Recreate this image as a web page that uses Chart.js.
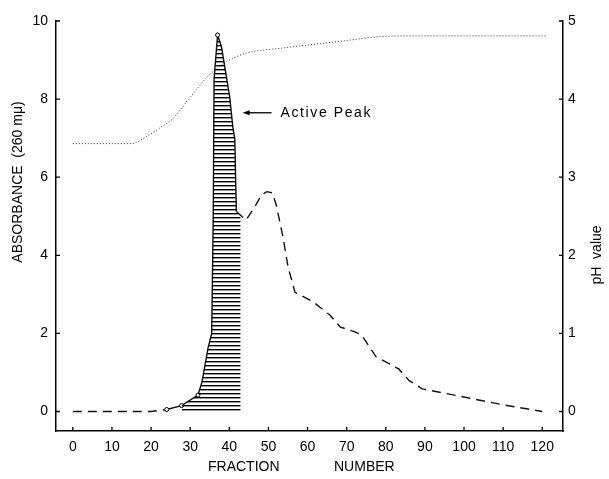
<!DOCTYPE html>
<html>
<head>
<meta charset="utf-8">
<script src="https://cdn.jsdelivr.net/npm/chart.js@4"></script>
<style>
  html, body { margin: 0; padding: 0; background: #fff; }
  #wrap { width: 609px; height: 479px; }
</style>
</head>
<body>
<div id="wrap"><canvas id="c" width="609" height="479"></canvas></div>
<script>
// ---- data ----
const fractionAbs = [0,5,10,15,20,24,27.8,32,33,34.6,35.5,35.9,36.1,37,38,40.1,40.9,41.4,41.8,44.3,46.5,48.2,49.6,51,52,53.7,55,56.8,61.4,65.7,68.4,72.1,73.8,77.5,83.3,86,89.3,98,110,120];
const absorbance  = [0,0,0,0,0,0.05,0.15,0.42,0.75,1.64,2.0,5.0,8.5,9.64,9.34,8.06,7.29,6.98,5.12,4.9,5.24,5.54,5.63,5.6,5.29,4.48,3.71,3.05,2.81,2.47,2.16,2.04,1.96,1.4,1.09,0.79,0.58,0.41,0.17,0];
const markedFractions = [24, 27.8, 32, 37];

const hatchFractions  = [27.8,32,33,34.6,35.5,35.9,36.1,37,38,40.1,40.9,41.4,41.8,42.9];
const hatchAbsorbance = [0.15,0.42,0.75,1.64,2.0,5.0,8.5,9.64,9.34,8.06,7.29,6.98,5.12,5.0];

const fractionPH = [0,5,10,15,18.8,22.2,25.6,28,31.6,34.2,36.3,39.3,44.4,53,63.2,70,78.6,90,100,110,121];
const phValues   = [3.43,3.43,3.43,3.43,3.52,3.63,3.75,3.9,4.12,4.28,4.37,4.48,4.59,4.65,4.71,4.75,4.80,4.81,4.81,4.81,4.81];

const xTicks  = [0,10,20,30,40,50,60,70,80,90,100,110,120];
const yTicks  = [0,2,4,6,8,10];
const phTicks = [0,1,2,3,4,5];
const solidRange = [24, 42];

const annotationText = 'Active Peak';
const annotationPos = {x: 53.1, y: 7.65};
const arrowFrom = 50.8, arrowTo = 43.4;

const FONT = "'Liberation Sans', Arial, sans-serif";

// hatch pattern
function makeHatch() {
  const pc = document.createElement('canvas');
  pc.width = 8; pc.height = 4;
  const g = pc.getContext('2d');
  g.fillStyle = '#000';
  g.fillRect(0, 1, 8, 1.4);
  return document.getElementById('c').getContext('2d').createPattern(pc, 'repeat');
}

const toXY = (xs, ys) => xs.map((x, i) => ({x: x, y: ys[i]}));

const decor = {
  id: 'decor',
  afterDraw(chart) {
    const ctx = chart.ctx;
    const {x, y, y1} = chart.scales;
    const ca = chart.chartArea;
    ctx.save();
    ctx.strokeStyle = '#000';
    ctx.lineWidth = 1.3;
    // inward ticks
    ctx.beginPath();
    xTicks.forEach(v => { const px = x.getPixelForValue(v); ctx.moveTo(px, ca.bottom); ctx.lineTo(px, ca.bottom - 4); });
    yTicks.forEach(v => { const py = y.getPixelForValue(v); ctx.moveTo(ca.left, py); ctx.lineTo(ca.left + 4, py); });
    phTicks.forEach(v => { const py = y1.getPixelForValue(v); ctx.moveTo(ca.right, py); ctx.lineTo(ca.right - 4, py); });
    ctx.stroke();

    // axis titles
    ctx.fillStyle = '#000';
    ctx.font = '14px ' + FONT;
    ctx.textAlign = 'center';
    ctx.textBaseline = 'middle';
    ctx.save();
    ctx.translate(18, 182);
    ctx.rotate(-Math.PI / 2);
    ctx.fillText('ABSORBANCE  (260 m\u03bc)', 0, 0);
    ctx.restore();
    ctx.save();
    ctx.translate(597, 255);
    ctx.rotate(-Math.PI / 2);
    ctx.fillText('pH  value', 0, 0);
    ctx.restore();
    ctx.textAlign = 'left';
    ctx.fillText('FRACTION', 208, 467);
    ctx.fillText('NUMBER', 334, 467);

    // annotation
    const ay = y.getPixelForValue(annotationPos.y);
    const ax1 = x.getPixelForValue(arrowFrom), ax0 = x.getPixelForValue(arrowTo);
    ctx.beginPath();
    ctx.moveTo(ax1, ay); ctx.lineTo(ax0 + 5, ay);
    ctx.stroke();
    ctx.beginPath();
    ctx.moveTo(ax0, ay); ctx.lineTo(ax0 + 7, ay - 2.5); ctx.lineTo(ax0 + 7, ay + 2.5); ctx.closePath();
    ctx.fill();
    ctx.font = '14px ' + FONT;
    try { ctx.letterSpacing = '1.6px'; } catch (e) {}
    ctx.fillText(annotationText, x.getPixelForValue(annotationPos.x), ay);
    ctx.restore();
  }
};

const setTicks = arr => scale => { scale.ticks = arr.map(v => ({value: v})); };

new Chart(document.getElementById('c'), {
  type: 'line',
  data: {
    datasets: [
      {
        label: 'hatch',
        data: toXY(hatchFractions, hatchAbsorbance),
        yAxisID: 'y',
        borderWidth: 0,
        pointRadius: 0,
        fill: 'origin',
        backgroundColor: makeHatch(),
        tension: 0
      },
      {
        label: 'Absorbance',
        data: toXY(fractionAbs, absorbance),
        yAxisID: 'y',
        borderColor: '#111',
        borderWidth: 1.4,
        fill: false,
        tension: 0,
        borderDash: [9, 6],
        segment: {
          borderDash: c => (c.p0.parsed.x >= solidRange[0] && c.p1.parsed.x <= solidRange[1]) ? [] : [9, 6]
        },
        pointRadius: c => markedFractions.includes(fractionAbs[c.dataIndex]) ? 2 : 0,
        pointBackgroundColor: '#fff',
        pointBorderColor: '#000',
        pointBorderWidth: 1
      },
      {
        label: 'pH',
        data: toXY(fractionPH, phValues),
        yAxisID: 'y1',
        borderColor: '#333',
        borderWidth: 1,
        borderDash: [1, 2],
        pointRadius: 0,
        fill: false,
        cubicInterpolationMode: 'monotone'
      }
    ]
  },
  options: {
    responsive: false,
    animation: false,
    events: [],
    layout: { padding: { top: 21, left: 0, right: 0, bottom: 0 } },
    plugins: { legend: { display: false }, tooltip: { enabled: false } },
    scales: {
      x: {
        type: 'linear', position: 'bottom', min: -4.3, max: 125.3,
        afterBuildTicks: setTicks(xTicks),
        afterFit: s => { s.height = 48; },
        grid: { display: true, drawOnChartArea: false, drawTicks: false },
        border: { display: true, color: '#000', width: 1.5 },
        ticks: { color: '#000', font: { family: FONT, size: 14 }, padding: 8, maxRotation: 0, autoSkip: false }
      },
      y: {
        type: 'linear', position: 'left', min: -0.5, max: 10,
        afterBuildTicks: setTicks(yTicks),
        afterFit: s => { s.width = 56; },
        grid: { display: true, drawOnChartArea: false, drawTicks: false },
        border: { display: true, color: '#000', width: 1.5 },
        ticks: { color: '#000', font: { family: FONT, size: 14 }, padding: 8 }
      },
      y1: {
        type: 'linear', position: 'right', min: -0.25, max: 5,
        afterBuildTicks: setTicks(phTicks),
        afterFit: s => { s.width = 46; },
        grid: { display: true, drawOnChartArea: false, drawTicks: false },
        border: { display: true, color: '#000', width: 1.5 },
        ticks: { color: '#000', font: { family: FONT, size: 14 }, padding: 5 }
      }
    }
  },
  plugins: [decor]
});
</script>
</body>
</html>
